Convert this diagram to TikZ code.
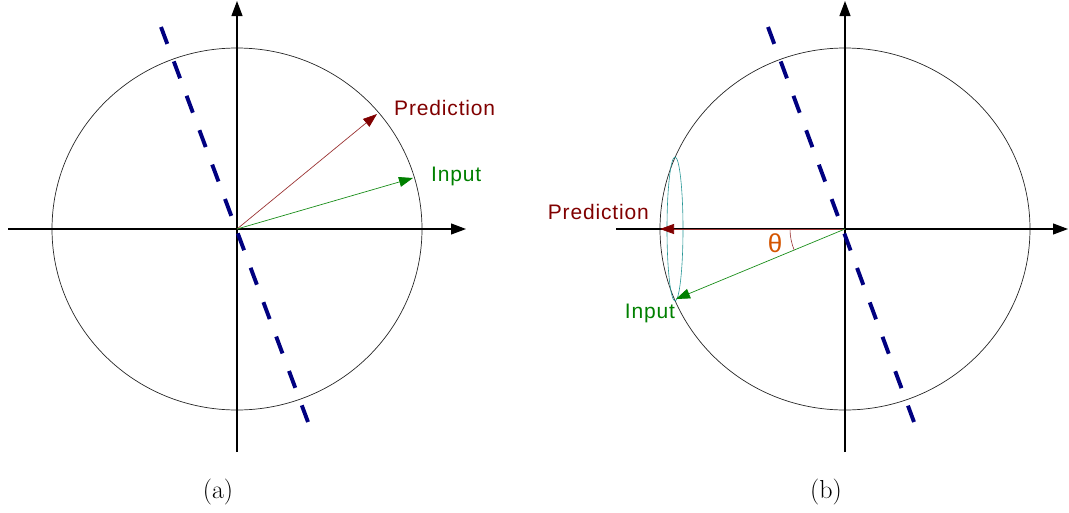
\documentclass[tikz,border=0pt]{standalone}
\usepackage{fontspec}
\newfontfamily\lab[LetterSpace=4]{Liberation Sans}
\newfontfamily\thfont{Liberation Sans}
\usetikzlibrary{arrows.meta,calc}
\definecolor{navy}{RGB}{0,0,128}
\definecolor{dred}{RGB}{128,0,0}
\definecolor{dgreen}{RGB}{0,128,0}
\definecolor{thorange}{RGB}{212,85,0}
\definecolor{teal2}{RGB}{40,150,150}
\begin{document}
\begin{tikzpicture}[x=1pt,y=-1pt,
  axis/.style={line width=1.1pt, -{Triangle[length=15pt,width=11pt]}},
  unitc/.style={line width=0.7pt, black!85},
  sep/.style={line width=3.9pt, navy, dash pattern=on 18pt off 18.7pt},
  predarr/.style={dred!80, line width=0.7pt, -{Triangle[length=14pt,width=10pt,fill=dred,color=dred]}},
  inarr/.style={dgreen!90, line width=0.7pt, -{Triangle[length=14pt,width=10pt,fill=dgreen,color=dgreen]}},
  lbl/.style={font=\lab\fontsize{21}{24}\selectfont, inner sep=0pt},
  captxt/.style={font=\fontsize{26}{30}\selectfont, inner sep=0pt}]
\useasboundingbox (0,0) rectangle (1069,512);
% ---------- panel (a) ----------
\coordinate (O1) at (237,229);
\coordinate (H1a) at (8,229);
\coordinate (H1b) at (466,229);
\coordinate (V1a) at (237,452);
\coordinate (V1b) at (237,1);
\coordinate (S1a) at (161,27);
\coordinate (S1b) at (308,422);
\coordinate (P1) at (377,114);
\coordinate (I1) at (413,178);
\draw[unitc] (O1) ellipse [x radius=185pt, y radius=181pt];
\draw[axis] (H1a) -- (H1b);
\draw[axis] (V1a) -- (V1b);
\draw[sep] (S1a) -- (S1b);
\draw[predarr] (O1) -- (P1);
\draw[inarr] (O1) -- (I1);
\node[lbl, text=dred, anchor=west] (pl1) at (394,108) {Prediction};
\node[lbl, text=dgreen, anchor=west] (il1) at (431,176) {Input};
\node[captxt] (ca) at (218,492) {(a)};
% ---------- panel (b) ----------
\coordinate (O2) at (845,229);
\coordinate (H2a) at (616,229);
\coordinate (H2b) at (1068,229);
\coordinate (V2a) at (845,452);
\coordinate (V2b) at (845,1);
\coordinate (S2a) at (768,27);
\coordinate (S2b) at (914,422);
\coordinate (P2) at (660,229);
\coordinate (I2) at (676,299);
\coordinate (E2) at (675,229);
\draw[unitc] (O2) ellipse [x radius=185pt, y radius=181pt];
\draw[teal2, line width=0.6pt] (E2) ellipse [x radius=8pt, y radius=72pt];
\draw[axis] (H2a) -- (H2b);
\draw[axis] (V2a) -- (V2b);
\draw[sep] (S2a) -- (S2b);
\draw[predarr] (O2) -- (P2);
\draw[inarr] (O2) -- (I2);
\draw[dred!80, line width=0.6pt] ($(O2)+(-55,0)$) arc [start angle=180, end angle=202.5, radius=55pt];
\node[lbl, text=dred, anchor=east] (pl2) at (649,212) {Prediction};
\node[lbl, text=dgreen] (il2) at (650,313) {Input};
\node[font=\thfont\fontsize{26}{28}\selectfont, text=thorange, inner sep=0pt] (th) at (775,243) {θ};
\node[captxt] (cb) at (826,492) {(b)};
\end{tikzpicture}
\end{document}
